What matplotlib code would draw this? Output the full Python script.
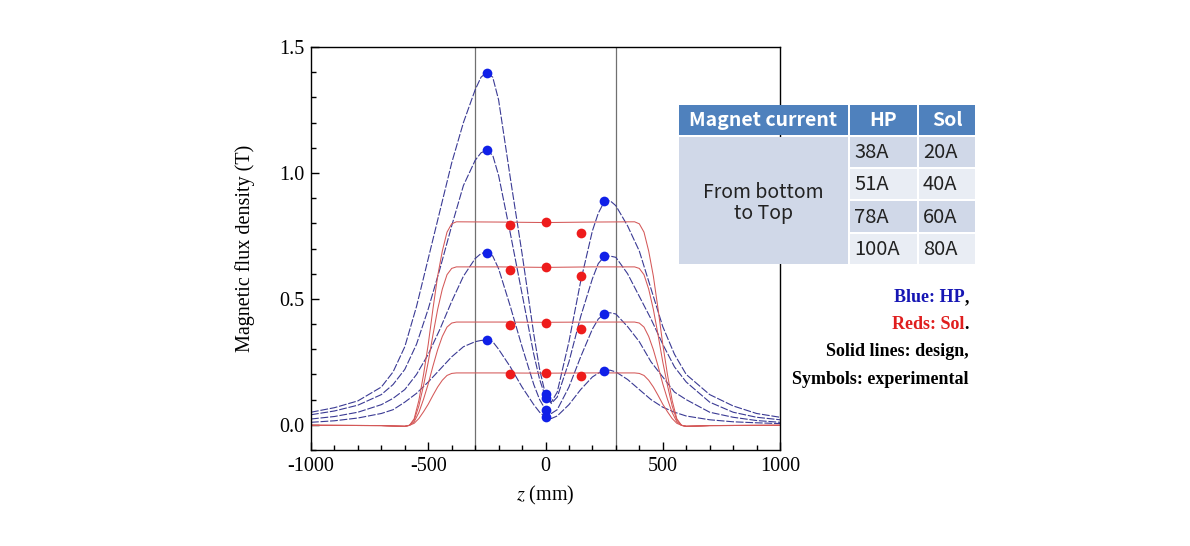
#!/usr/bin/env python3
"""
Magnetic flux density along z: HP and Sol magnets, design vs experiment
"""

import matplotlib
matplotlib.use("Agg")
import matplotlib.pyplot as plt
from matplotlib.patches import Rectangle
from matplotlib.text import Annotation
from matplotlib.ticker import MultipleLocator

# ---- design curves, HP magnet (blue dashed) ----
z_hp = [-1000, -900, -800, -700, -650, -600, -550, -500, -450, -400,
        -350, -300, -275, -250, -225, -200, -150, -100, -50, -25,
        0, 25, 50, 100, 150, 200, 225, 250, 275, 300,
        350, 400, 450, 500, 550, 600, 700, 800, 900, 1000]
hp_100 = [0.050, 0.068, 0.095, 0.150, 0.210, 0.310, 0.470, 0.660, 0.850, 1.040,
          1.200, 1.330, 1.380, 1.400, 1.380, 1.290, 0.980, 0.680, 0.360, 0.220,
          0.120, 0.090, 0.130, 0.330, 0.570, 0.770, 0.840, 0.885, 0.890, 0.870,
          0.790, 0.690, 0.540, 0.390, 0.280, 0.200, 0.120, 0.075, 0.045, 0.030]
hp_78 = [0.040, 0.055, 0.078, 0.120, 0.160, 0.220, 0.320, 0.460, 0.620, 0.790,
         0.950, 1.050, 1.080, 1.090, 1.070, 0.990, 0.760, 0.520, 0.280, 0.180,
         0.110, 0.085, 0.110, 0.250, 0.430, 0.580, 0.640, 0.668, 0.670, 0.665,
         0.600, 0.510, 0.420, 0.320, 0.230, 0.170, 0.090, 0.050, 0.030, 0.020]
hp_51 = [0.023, 0.033, 0.050, 0.080, 0.105, 0.140, 0.200, 0.280, 0.380, 0.490,
         0.590, 0.660, 0.680, 0.686, 0.670, 0.620, 0.470, 0.310, 0.160, 0.100,
         0.060, 0.045, 0.060, 0.150, 0.270, 0.380, 0.420, 0.440, 0.445, 0.440,
         0.390, 0.330, 0.250, 0.190, 0.130, 0.100, 0.050, 0.030, 0.017, 0.010]
hp_38 = [0.010, 0.016, 0.027, 0.045, 0.060, 0.090, 0.125, 0.170, 0.220, 0.270,
         0.310, 0.330, 0.335, 0.336, 0.330, 0.300, 0.230, 0.150, 0.080, 0.050,
         0.030, 0.025, 0.035, 0.080, 0.140, 0.190, 0.205, 0.215, 0.217, 0.210,
         0.180, 0.140, 0.100, 0.070, 0.050, 0.035, 0.020, 0.012, 0.008, 0.005]

# ---- design curves, Sol magnet (red solid) ----
z_sol = [-1000, -700, -640, -600, -580, -560, -540, -520, -500, -480,
         -460, -440, -420, -400, -380, -200, 0, 200, 380, 400,
         420, 440, 460, 480, 500, 520, 540, 560, 580, 600,
         640, 700, 1000]
sol_80 = [-0.002, -0.003, -0.005, -0.006, -0.002, 0.024, 0.097, 0.200, 0.320, 0.460,
          0.590, 0.690, 0.765, 0.798, 0.806, 0.805, 0.803, 0.805, 0.806, 0.798,
          0.765, 0.690, 0.590, 0.460, 0.320, 0.200, 0.097, 0.024, -0.002, -0.006,
          -0.005, -0.003, -0.002]
sol_60 = [-0.002, -0.003, -0.005, -0.006, -0.002, 0.019, 0.075, 0.157, 0.250, 0.357,
          0.458, 0.539, 0.596, 0.621, 0.627, 0.627, 0.625, 0.627, 0.627, 0.621,
          0.596, 0.539, 0.458, 0.357, 0.250, 0.157, 0.075, 0.019, -0.002, -0.006,
          -0.005, -0.003, -0.002]
sol_40 = [-0.002, -0.003, -0.005, -0.006, -0.002, 0.012, 0.049, 0.102, 0.163, 0.233,
          0.298, 0.351, 0.388, 0.404, 0.408, 0.408, 0.407, 0.408, 0.408, 0.404,
          0.388, 0.351, 0.298, 0.233, 0.163, 0.102, 0.049, 0.012, -0.002, -0.006,
          -0.005, -0.003, -0.002]
sol_20 = [-0.002, -0.003, -0.005, -0.006, -0.002, 0.006, 0.025, 0.052, 0.082, 0.117,
          0.150, 0.177, 0.196, 0.204, 0.206, 0.206, 0.205, 0.206, 0.206, 0.204,
          0.196, 0.177, 0.150, 0.117, 0.082, 0.052, 0.025, 0.006, -0.002, -0.006,
          -0.005, -0.003, -0.002]

# ---- experimental points ----
z_hp_exp = [-250, 0, 250]
hp_exp_100 = [1.398, 0.122, 0.888]
hp_exp_78 = [1.092, 0.108, 0.669]
hp_exp_51 = [0.683, 0.059, 0.441]
hp_exp_38 = [0.335, 0.030, 0.215]

z_sol_exp = [-150, 0, 150]
sol_exp_80 = [0.795, 0.806, 0.760]
sol_exp_60 = [0.616, 0.627, 0.591]
sol_exp_40 = [0.398, 0.405, 0.381]
sol_exp_20 = [0.202, 0.206, 0.192]

# ---- table ----
table_header = ["Magnet current", "HP", "Sol"]
table_rowlabel = "From bottom\nto Top"
hp_currents = ["38A", "51A", "78A", "100A"]
sol_currents = ["20A", "40A", "60A", "80A"]

W, H = 1190, 546
SERIF = "Liberation Serif"
SANS = ["Noto Sans CJK KR", "DejaVu Sans"]


def fx(px):
    return px / W


def fy(py):
    return 1 - py / H


def draw_table(fig):
    """Table overlay in figure pixels"""
    head = "#4f81bd"
    dark = "#d0d8e8"
    light = "#e9edf4"
    cols = [678, 849, 918, 976]
    rows = [104, 136, 168, 200, 233, 265]
    g = 1.5

    def cell(x0, x1, y0, y1, color):
        fig.patches.append(Rectangle((fx(x0 + g / 2), fy(y1 - g / 2)),
                                     (x1 - x0 - g) / W, (y1 - y0 - g) / H,
                                     transform=fig.transFigure, facecolor=color,
                                     edgecolor="none", zorder=5))

    for i, label in enumerate(table_header):
        cell(cols[i], cols[i + 1], rows[0], rows[1], head)
        fig.text(fx((cols[i] + cols[i + 1]) / 2), fy((rows[0] + rows[1]) / 2 + 1), label,
                 ha="center", va="center", color="white", fontsize=14,
                 fontweight="bold", family=SANS, zorder=6)

    cell(cols[0], cols[1], rows[1], rows[5], dark)
    fig.text(fx((cols[0] + cols[1]) / 2), fy(203), table_rowlabel,
             ha="center", va="center", fontsize=14, family=SANS,
             linespacing=1.05, color="#222222", zorder=6)

    for r in range(4):
        color = dark if r % 2 == 0 else light
        y0, y1 = rows[r + 1], rows[r + 2]
        for c, txt in ((1, hp_currents[r]), (2, sol_currents[r])):
            cell(cols[c], cols[c + 1], y0, y1, color)
            fig.text(fx(cols[c] + 5), fy((y0 + y1) / 2 + 1), txt, ha="left",
                     va="center", fontsize=14.5, family=SANS, color="#222222", zorder=6)


def draw_notes(fig):
    """Coloured notes right of the plot"""
    xr = fx(969)
    kw = dict(fontsize=13, fontweight="bold", family=SERIF, zorder=6)

    comma = fig.text(xr, fy(302), ",", ha="right", va="baseline", color="black", **kw)
    fig.add_artist(Annotation("Blue: HP", xy=(0, fy(302)),
                              xycoords=(comma, "figure fraction"),
                              ha="right", va="baseline", color="#1616b4", **kw))
    dot = fig.text(xr, fy(329), ".", ha="right", va="baseline", color="black", **kw)
    fig.add_artist(Annotation("Reds: Sol", xy=(0, fy(329)),
                              xycoords=(dot, "figure fraction"),
                              ha="right", va="baseline", color="#e01e1e", **kw))
    fig.text(xr, fy(356), "Solid lines: design,", ha="right", va="baseline",
             color="black", **kw)
    fig.text(xr, fy(384), "Symbols: experimental", ha="right", va="baseline",
             color="black", **kw)


def main():
    plt.rcParams["mathtext.fontset"] = "stix"
    plt.rcParams["axes.unicode_minus"] = False
    fig = plt.figure(figsize=(W / 100, H / 100), dpi=100)
    ax = fig.add_axes([fx(311), fy(450), (780 - 311) / W, (450 - 47) / H])

    blue_line = "#3a3a94"
    red_line = "#d45858"
    for vals in (hp_100, hp_78, hp_51, hp_38):
        ax.plot(z_hp, vals, color=blue_line, lw=0.8, dashes=(7, 1.6), zorder=2)
    for vals in (sol_80, sol_60, sol_40, sol_20):
        ax.plot(z_sol, vals, color=red_line, lw=0.75, zorder=2)

    ax.axvline(-300, color="#707070", lw=0.9, zorder=1)
    ax.axvline(300, color="#707070", lw=0.9, zorder=1)

    for vals in (sol_exp_80, sol_exp_60, sol_exp_40, sol_exp_20):
        ax.plot(z_sol_exp, vals, "o", color="#ee1c1c", ms=7, mec="none", zorder=3)
    for vals in (hp_exp_100, hp_exp_78, hp_exp_51, hp_exp_38):
        ax.plot(z_hp_exp, vals, "o", color="#1020e8", ms=7, mec="none", zorder=3)

    ax.set_xlim(-1000, 1000)
    ax.set_ylim(-0.1, 1.5)
    ax.xaxis.set_major_locator(MultipleLocator(500))
    ax.xaxis.set_minor_locator(MultipleLocator(100))
    ax.yaxis.set_minor_locator(MultipleLocator(0.1))
    ax.set_yticks([0.0, 0.5, 1.0, 1.5])
    ax.set_yticklabels(["0.0", "0.5", "1.0", "1.5"])
    ax.tick_params(which="both", direction="in", top=False, right=False,
                   labelsize=14.5, width=1.0)
    ax.tick_params(which="major", length=6, pad=5)
    ax.tick_params(which="minor", length=3.5)
    for lab in ax.get_xticklabels() + ax.get_yticklabels():
        lab.set_family(SERIF)
    for sp in ax.spines.values():
        sp.set_linewidth(1.0)

    ax.set_xlabel("$z$ (mm)", fontsize=14.5, family=SERIF)
    ax.xaxis.set_label_coords(0.5, -0.085)
    ax.set_ylabel("Magnetic flux density (T)", fontsize=14.5, family=SERIF)
    ax.yaxis.set_label_coords(-0.12, 0.5)

    draw_table(fig)
    draw_notes(fig)

    fig.savefig("out.png", dpi=100, facecolor="white")


if __name__ == "__main__":
    main()
